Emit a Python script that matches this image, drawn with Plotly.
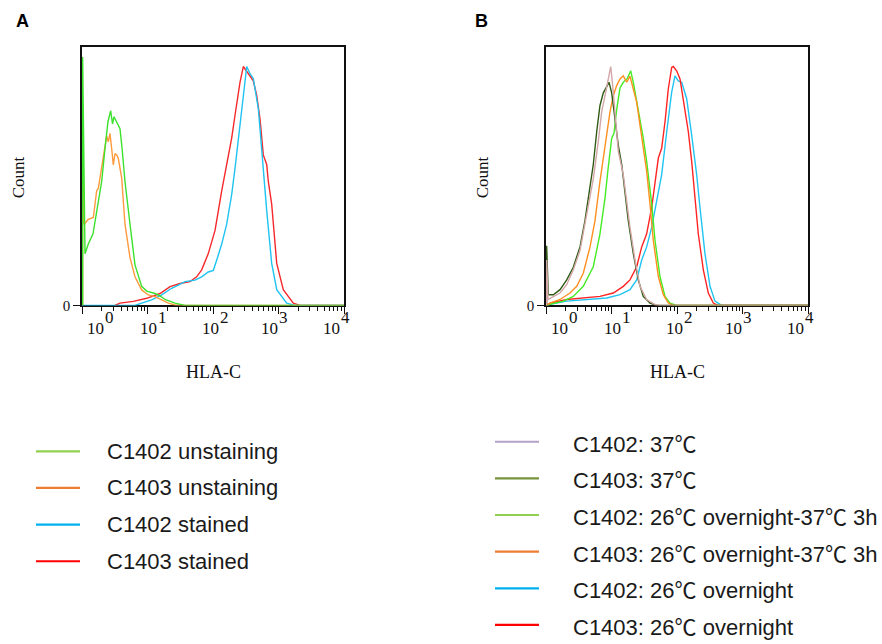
import numpy as np
import plotly.graph_objects as go

W, H = 882, 644

# ---------------- Panel A: HLA-C staining vs unstained controls ----------------
# x: log10 fluorescence intensity, y: count (% of modal bin)
A_C1402_UNST_LOG = [0.01, 0.01, 0.046, 0.096, 0.168, 0.224, 0.275, 0.301, 0.351, 0.397, 0.438, 0.466,
                    0.489, 0.530, 0.580, 0.611, 0.656, 0.733, 0.809, 0.911, 0.988, 1.115, 1.191, 1.267,
                    1.420, 1.573, 4.0]
A_C1402_UNST_CNT = [0, 104, 21.6, 25.7, 30, 39.6, 48, 52, 65.7, 77, 81.5, 76,
                    79, 76.7, 74, 66, 52, 34, 17, 8, 6, 5, 4, 2.5,
                    1, 0, 0]

A_C1403_UNST_LOG = [0.01, 0.01, 0.031, 0.096, 0.173, 0.224, 0.249, 0.301, 0.351, 0.377, 0.402, 0.427,
                    0.453, 0.478, 0.504, 0.530, 0.554, 0.606, 0.656, 0.733, 0.809, 0.911, 1.012, 1.115,
                    1.217, 1.318, 1.420, 1.573, 4.0]
A_C1403_UNST_CNT = [0, 65.7, 34, 36, 36.8, 48, 49, 58.8, 67, 71, 68.5, 72,
                    65.7, 58.8, 63.6, 63, 61.6, 53.3, 34, 20, 12, 6.5, 4.4, 3.7,
                    2.3, 1, 0.2, 0, 0]

A_C1402_STAIN_LOG = [0, 0.809, 0.911, 1.064, 1.217, 1.369, 1.470, 1.573, 1.725, 1.827, 1.928, 2.005,
                     2.056, 2.133, 2.209, 2.285, 2.336, 2.386, 2.438, 2.489, 2.515, 2.565, 2.615, 2.692,
                     2.768, 2.820, 2.896, 2.973, 3.125, 3.252, 4.0]
A_C1402_STAIN_CNT = [0, 0, 1, 2.3, 4.4, 7.2, 8.5, 10, 10.6, 12, 14, 14.7,
                     18.9, 25.7, 34, 46.4, 57.4, 69.8, 83.6, 96, 100, 97, 95, 82.4,
                     56.2, 39.7, 17.6, 6.6, 1, 0, 0]

A_C1403_STAIN_LOG = [0.504, 0.580, 0.783, 0.988, 1.191, 1.344, 1.496, 1.649, 1.751, 1.827, 1.928, 2.031,
                     2.133, 2.209, 2.285, 2.336, 2.412, 2.463, 2.515, 2.565, 2.615, 2.667, 2.718, 2.768,
                     2.820, 2.844, 2.896, 2.973, 3.073, 3.226, 3.328, 4.0]
A_C1403_STAIN_CNT = [0, 1, 1.7, 3, 5, 7.9, 9.2, 10, 12, 14.9, 21.7, 31.4,
                     48, 59, 70, 79.6, 93.4, 100, 98, 96, 94, 88, 78, 63,
                     59, 52, 42.4, 17.6, 6.6, 1, 0, 0]

# ---------------- Panel B: temperature shift ----------------
B_C1402_37_LOG = [0.01, 0.01, 0.031, 0.214, 0.316, 0.417, 0.519, 0.621, 0.722, 0.798, 0.850, 0.901,
                  0.951, 0.988, 1.018, 1.053, 1.104, 1.180, 1.232, 1.282, 1.359, 1.435, 1.537, 1.664,
                  1.740, 4.0]
B_C1402_37_CNT = [0, 19, 2.5, 5.2, 8.7, 14.9, 23, 38, 53, 68.6, 81, 87.8,
                  94.8, 100, 92, 79.6, 64.5, 54.8, 43.8, 32.8, 19, 8, 2.5, 0.4,
                  0, 0]

B_C1403_37_LOG = [0.01, 0.01, 0.035, 0.111, 0.214, 0.316, 0.417, 0.519, 0.595, 0.672, 0.722, 0.774,
                  0.824, 0.875, 0.927, 0.962, 1.003, 1.053, 1.104, 1.156, 1.206, 1.256, 1.333, 1.409,
                  1.485, 1.588, 1.690, 4.0]
B_C1403_37_CNT = [0, 25, 4.5, 4.5, 6.6, 10.7, 16, 24.5, 35.5, 49, 59, 72.7,
                  83.7, 89, 92, 93.4, 89, 76.9, 67, 59, 46.5, 35.5, 21.7, 10.7,
                  3.8, 1, 0, 0]

B_C1402_26_37_LOG = [0, 0.061, 0.264, 0.417, 0.569, 0.722, 0.824, 0.901, 0.947, 1.003, 1.038, 1.079,
                     1.130, 1.180, 1.241, 1.293, 1.333, 1.409, 1.485, 1.537, 1.614, 1.664, 1.740, 1.817,
                     1.893, 1.995, 4.0]
B_C1402_26_37_CNT = [0, 0.5, 1.8, 3.8, 8, 16.2, 30, 45, 57, 70, 72, 82,
                     91, 93.4, 95, 98.2, 93.4, 82.4, 70, 60.3, 42.4, 27.3, 12.1, 3.8,
                     1, 0, 0]

B_C1403_26_37_LOG = [0, 0.061, 0.214, 0.366, 0.469, 0.569, 0.672, 0.748, 0.824, 0.875, 0.927, 0.977,
                     1.027, 1.079, 1.130, 1.180, 1.232, 1.282, 1.333, 1.385, 1.435, 1.485, 1.537, 1.588,
                     1.638, 1.715, 1.791, 1.867, 1.944, 4.0]
B_C1403_26_37_CNT = [0, 1, 2.5, 5.2, 8, 13.5, 24.5, 35.5, 52, 61.7, 71.3, 81,
                     87.8, 92, 94.8, 96.1, 93.4, 96, 90.6, 85, 75.5, 65.8, 56.2, 42.4,
                     27.3, 12.1, 4.5, 1, 0, 0]

B_C1402_26_LOG = [0, 0.061, 0.316, 0.672, 0.927, 1.130, 1.282, 1.385, 1.461, 1.537, 1.614, 1.690,
                  1.766, 1.843, 1.919, 1.969, 2.020, 2.072, 2.148, 2.224, 2.300, 2.351, 2.427, 2.504,
                  2.580, 2.682, 4.0]
B_C1402_26_CNT = [0, 0.5, 1.8, 2.5, 3.1, 4.5, 6.6, 10.7, 19, 24.5, 32.8, 43.8,
                  54.8, 72.7, 89.3, 96.1, 94, 93.4, 86.5, 71.3, 54.8, 41, 21.7, 8,
                  1.8, 0, 0]

B_C1403_26_LOG = [0, 0.061, 0.316, 0.569, 0.824, 1.027, 1.180, 1.282, 1.385, 1.461, 1.537, 1.614,
                  1.664, 1.715, 1.766, 1.817, 1.867, 1.919, 1.944, 1.995, 2.046, 2.122, 2.173, 2.224,
                  2.275, 2.325, 2.402, 2.478, 2.554, 2.626, 4.0]
B_C1403_26_CNT = [0, 1, 2.5, 3.1, 3.8, 5.2, 8, 10.7, 16.2, 24.5, 30, 41,
                  52, 61.7, 65.8, 76.9, 90.6, 99.6, 100, 98.2, 94.8, 82.4, 72.7, 60.3,
                  45.2, 30, 14.9, 5.2, 1, 0, 0]

# legend labels (in legend order)
LEGEND_A = ["C1402 unstaining", "C1403 unstaining", "C1402 stained", "C1403 stained"]
LEGEND_B = ["C1402: 37℃", "C1403: 37℃", "C1402: 26℃ overnight-37℃ 3h",
            "C1403: 26℃ overnight-37℃ 3h", "C1402: 26℃ overnight", "C1403: 26℃ overnight"]

DECADES = [1, 10, 100, 1000, 10000]
DECADE_EXP = ["0", "1", "2", "3", "4"]

# ---------------- styling ----------------
TRACE_COLORS_A = ["#3BE22C", "#FF9A3E", "#1EC3F0", "#F5282C"]
KEY_COLORS_A = ["#92D050", "#ED7D31", "#00B0F0", "#FF0000"]
TRACE_COLORS_B = ["#D3A7A7", "#2F5A14", "#44EC24", "#FF901F", "#20C4F2", "#FF2424"]
KEY_COLORS_B = ["#B3A2C7", "#77933C", "#92D050", "#ED7D31", "#00B0F0", "#FF0000"]

SERIF = "Liberation Serif, Times New Roman, serif"
SANS = "Liberation Sans, Arial, Noto Sans CJK SC, sans-serif"
CJK = "Noto Sans CJK SC"
INK = "#111111"


def fx(px):
    return px / W


def fy(py):
    return 1 - py / H


def with_cjk_symbols(label):
    # degree-Celsius sign in a CJK face, as in the original slide
    return label.replace("℃", f'<span style="font-family:{CJK}">℃</span>')


fig = go.Figure()


def add_hist(logs, counts, color, xa, ya, name):
    fig.add_trace(go.Scatter(
        x=10 ** np.asarray(logs, dtype=float), y=counts, mode="lines", name=name,
        line=dict(color=color, width=1.4), xaxis=xa, yaxis=ya,
        showlegend=False, hoverinfo="skip"))


# panel A (green drawn last, on top)
add_hist(A_C1403_STAIN_LOG, A_C1403_STAIN_CNT, TRACE_COLORS_A[3], "x", "y", LEGEND_A[3])
add_hist(A_C1402_STAIN_LOG, A_C1402_STAIN_CNT, TRACE_COLORS_A[2], "x", "y", LEGEND_A[2])
add_hist(A_C1403_UNST_LOG, A_C1403_UNST_CNT, TRACE_COLORS_A[1], "x", "y", LEGEND_A[1])
add_hist(A_C1402_UNST_LOG, A_C1402_UNST_CNT, TRACE_COLORS_A[0], "x", "y", LEGEND_A[0])

# panel B
add_hist(B_C1402_26_LOG, B_C1402_26_CNT, TRACE_COLORS_B[4], "x2", "y2", LEGEND_B[4])
add_hist(B_C1403_26_LOG, B_C1403_26_CNT, TRACE_COLORS_B[5], "x2", "y2", LEGEND_B[5])
add_hist(B_C1402_26_37_LOG, B_C1402_26_37_CNT, TRACE_COLORS_B[2], "x2", "y2", LEGEND_B[2])
add_hist(B_C1403_26_37_LOG, B_C1403_26_37_CNT, TRACE_COLORS_B[3], "x2", "y2", LEGEND_B[3])
add_hist(B_C1403_37_LOG, B_C1403_37_CNT, TRACE_COLORS_B[1], "x2", "y2", LEGEND_B[1])
add_hist(B_C1402_37_LOG, B_C1402_37_CNT, TRACE_COLORS_B[0], "x2", "y2", LEGEND_B[0])

minor_vals = [k * d for d in DECADES[:-1] for k in range(2, 10)]

x_common = dict(
    type="log", range=[0, 4], showline=True, linecolor=INK, linewidth=1.5, mirror=True,
    ticks="outside", ticklen=7, tickwidth=1.2, tickcolor=INK, tickvals=DECADES,
    showticklabels=False, showgrid=False, zeroline=False, layer="below traces",
    minor=dict(ticks="outside", ticklen=4, tickwidth=1, tickcolor=INK,
               tickvals=minor_vals, showgrid=False),
)
y_common = dict(
    range=[0, 108], showline=True, linecolor=INK, linewidth=1.5, mirror=True,
    ticks="outside", ticklen=7, tickwidth=1.2, tickcolor=INK,
    tickvals=[0], ticktext=["0"], tickfont=dict(family=SERIF, size=15, color=INK),
    showgrid=False, zeroline=False, layer="below traces",
)

PLOT_TOP, PLOT_BOTTOM = 48, 309.3
PANELS = [  # (left px, right px)
    (82, 344),
    (546, 808),
]

fig.update_layout(
    width=W, height=H, margin=dict(l=0, r=0, t=0, b=0),
    paper_bgcolor="white", plot_bgcolor="white", showlegend=False,
    xaxis=dict(domain=[fx(PANELS[0][0]), fx(PANELS[0][1])], anchor="y", **x_common),
    yaxis=dict(domain=[fy(PLOT_BOTTOM), fy(PLOT_TOP)], anchor="x", **y_common),
    xaxis2=dict(domain=[fx(PANELS[1][0]), fx(PANELS[1][1])], anchor="y2", **x_common),
    yaxis2=dict(domain=[fy(PLOT_BOTTOM), fy(PLOT_TOP)], anchor="x2", **y_common),
)

annotations = []
shapes = []

# decade labels 10^n, placed the way the cytometry software draws them
LABEL_LOG = [0.2, 1.02, 1.96, 2.86, 3.81]
for xref in ("x", "x2"):
    for pos, exp in zip(LABEL_LOG, DECADE_EXP):
        annotations.append(dict(x=pos, xref=xref, y=fy(333), yref="paper", text="10",
                                showarrow=False, xanchor="center", yanchor="middle",
                                font=dict(family=SERIF, size=17, color=INK)))
        annotations.append(dict(x=pos, xref=xref, y=fy(321), yref="paper", text=exp,
                                xshift=14, showarrow=False, xanchor="center", yanchor="middle",
                                font=dict(family=SERIF, size=17, color=INK)))

for (left, right), letter, cx in zip(PANELS, ["A", "B"], [22, 481.5]):
    mid = (left + right) / 2
    annotations.append(dict(x=fx(cx), y=fy(21), xref="paper", yref="paper", text=f"<b>{letter}</b>",
                            showarrow=False, xanchor="center", yanchor="middle",
                            font=dict(family=SANS, size=18, color="#000")))
    annotations.append(dict(x=fx(left - 64), y=fy(179.5), xref="paper", yref="paper", text="Count",
                            textangle=-90, showarrow=False, xanchor="center", yanchor="middle",
                            font=dict(family=SERIF, size=17, color=INK)))
    annotations.append(dict(x=fx(mid), y=fy(377), xref="paper", yref="paper", text="HLA-C",
                            showarrow=False, xanchor="center", yanchor="middle",
                            font=dict(family=SERIF, size=18, color=INK)))


# legends
def add_key(labels, colors, x0, x1, xt, y0, step):
    for i, (lab, col) in enumerate(zip(labels, colors)):
        yy = y0 + i * step
        shapes.append(dict(type="line", xref="paper", yref="paper", x0=fx(x0), x1=fx(x1),
                           y0=fy(yy), y1=fy(yy), line=dict(color=col, width=2.2)))
        annotations.append(dict(x=fx(xt), y=fy(yy), xref="paper", yref="paper",
                                text=with_cjk_symbols(lab),
                                showarrow=False, xanchor="left", yanchor="middle",
                                font=dict(family=SANS, size=22, color="#1a1a1a")))


add_key(LEGEND_A, KEY_COLORS_A, 36, 80, 105, 457, 37.1)
add_key(LEGEND_B, KEY_COLORS_B, 495, 539, 571, 447.3, 37.1)

fig.update_layout(annotations=annotations, shapes=shapes)
fig.write_html("out.html")
